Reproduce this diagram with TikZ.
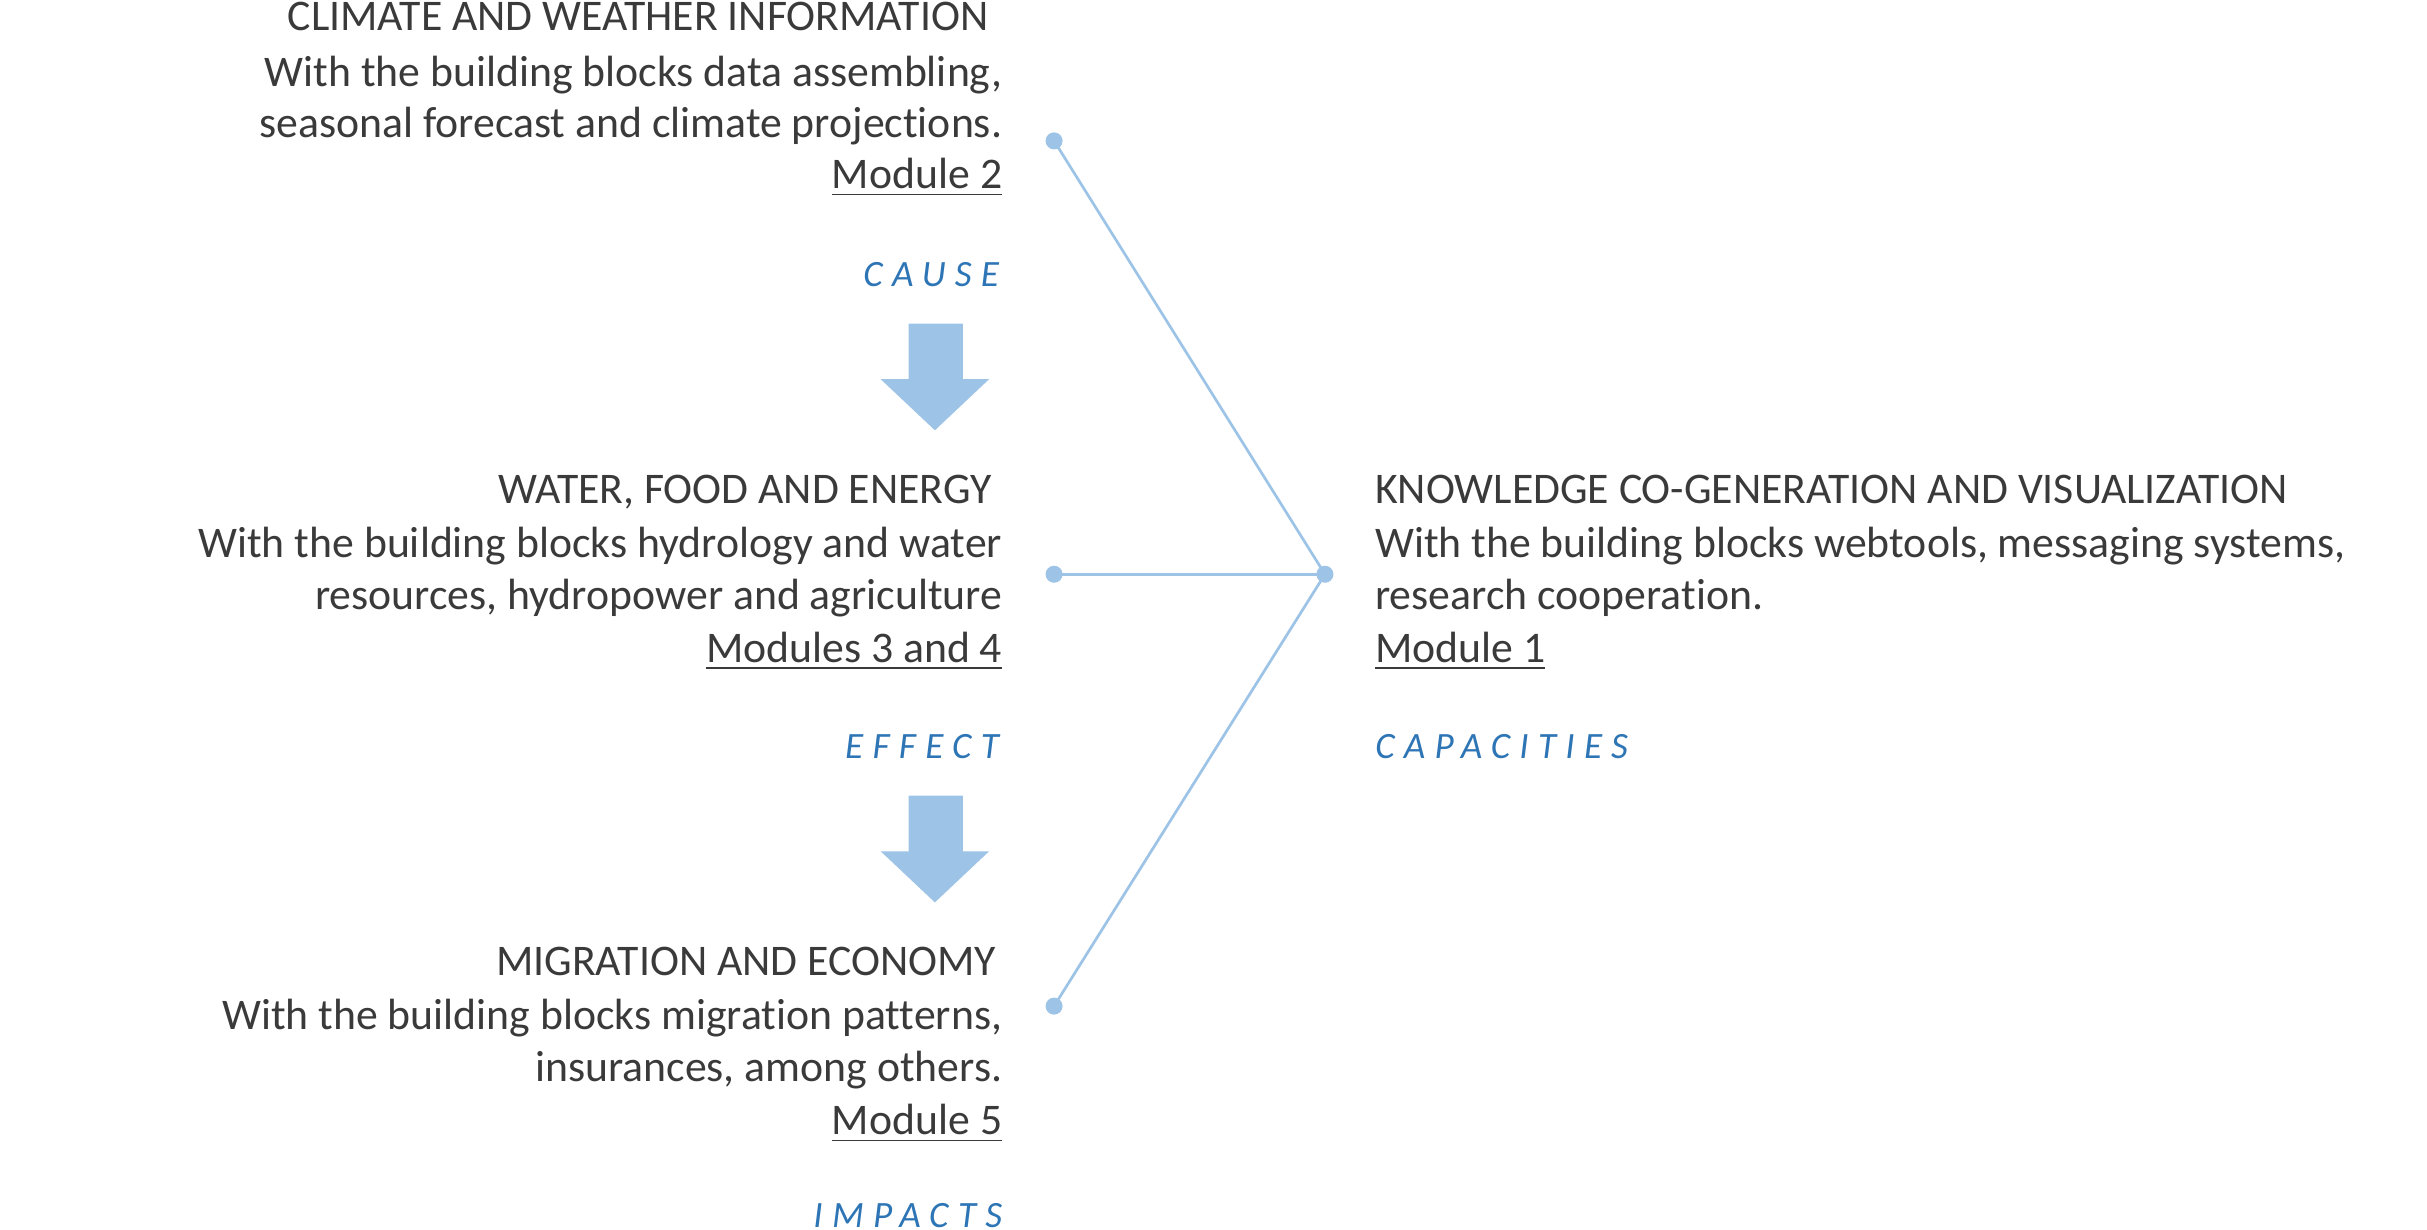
\documentclass[tikz,border=0pt]{standalone}
\usepackage{fontspec}
\setmainfont{Carlito}[Ligatures=NoCommon]
\definecolor{txt}{RGB}{58,58,58}
\definecolor{lab}{RGB}{46,117,182}
\definecolor{lin}{RGB}{157,195,230}
\newfontfamily\labfont[LetterSpace=25,Ligatures=NoCommon]{Carlito}
\begin{document}
\begin{tikzpicture}[x=0.4pt,y=-0.4pt,
  tl/.style={anchor=base east,inner sep=0pt,text=txt,font=\fontsize{11.3}{14}\selectfont},
  tr/.style={anchor=base west,inner sep=0pt,text=txt,font=\fontsize{11.3}{14}\selectfont},
  lbl/.style={inner sep=0pt,text=lab,font=\labfont\itshape\fontsize{9.6}{12}\selectfont},
  dotnode/.style={circle,fill=lin,inner sep=0pt,minimum size=4.4pt},
  conn/.style={draw=lin,line width=0.7pt},
  bigarrow/.style={fill=lin}]
\useasboundingbox (0,0) rectangle (1568,794.6);
\clip (0,0) rectangle (1568,794.6);
% left column
\node[tl] (h1) at (639,20) {CLIMATE AND WEATHER INFORMATION};
\node[tl] (a1) at (648,56) {With the building blocks data assembling,};
\node[tl] (a2) at (648,89) {seasonal forecast and climate projections.};
\node[tl] (m2) at (648,122) {\underline{Module 2}};
\node[lbl,anchor=base east] (cause) at (646,185) {CAUSE};
\node[tl] (h2) at (641,325) {WATER, FOOD AND ENERGY};
\node[tl] (b1) at (648,360) {With the building blocks hydrology and water};
\node[tl] (b2) at (648,394) {resources, hydropower and agriculture};
\node[tl] (m34) at (648,428) {\underline{Modules 3 and 4}};
\node[lbl,anchor=base east] (effect) at (646,490) {EFFECT};
\node[tl] (h3) at (644,630) {MIGRATION AND ECONOMY};
\node[tl] (c1) at (648,665) {With the building blocks migration patterns,};
\node[tl] (c2) at (648,699) {insurances, among others.};
\node[tl] (m5) at (648,733) {\underline{Module 5}};
\node[lbl,anchor=base east] (impacts) at (648,793) {IMPACTS};
% right column
\node[tr] (h4) at (888,325) {KNOWLEDGE CO-GENERATION AND VISUALIZATION};
\node[tr] (k1) at (888,360) {With the building blocks webtools, messaging systems,};
\node[tr] (k2) at (888,394) {research cooperation.};
\node[tr] (m1) at (888,428) {\underline{Module 1}};
\node[lbl,anchor=base west] (cap) at (888,490) {CAPACITIES};
% arrows
\fill[bigarrow] (587,209) -- (622,209) -- (622,245) -- (639,245) -- (604,278) -- (569,245) -- (587,245) -- cycle;
\fill[bigarrow] (587,514) -- (622,514) -- (622,550) -- (639,550) -- (604,583) -- (569,550) -- (587,550) -- cycle;
% connectors
\node[dotnode] (hub) at (856,371) {};
\node[dotnode] (e1) at (681,91) {};
\node[dotnode] (e2) at (681,371) {};
\node[dotnode] (e3) at (681,650) {};
\draw[conn] (e1.center) -- (hub.center);
\draw[conn] (e2.center) -- (hub.center);
\draw[conn] (e3.center) -- (hub.center);
\end{tikzpicture}
\end{document}
